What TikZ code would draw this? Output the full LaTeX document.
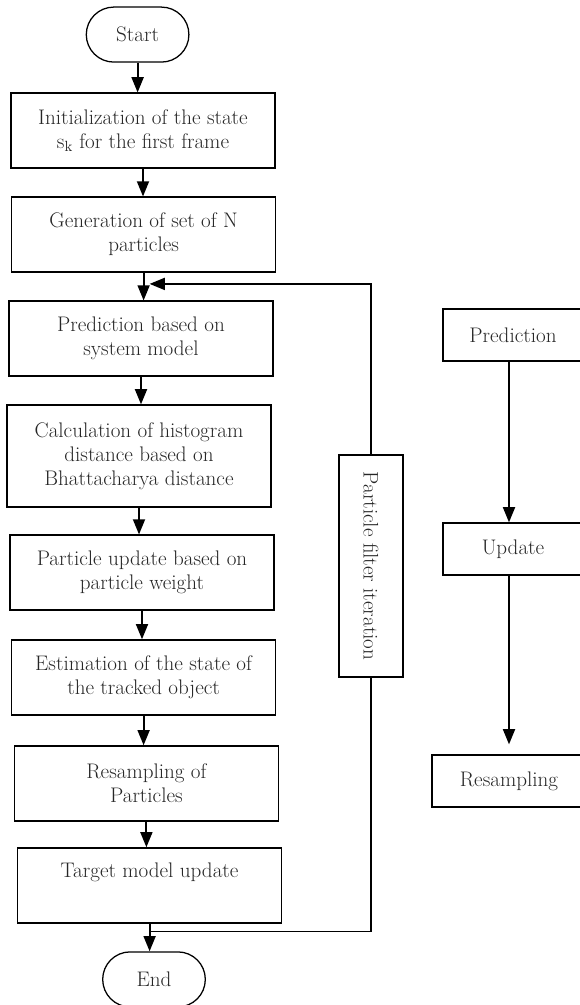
\documentclass[tikz,border=0pt]{standalone}
\usepackage{tikz}
\usetikzlibrary{arrows.meta,positioning,shapes,calc}

\begin{document}
\begin{tikzpicture}[
  txt/.style={font=\fontsize{15}{17}\selectfont, text=black!85},
  pbox/.style={draw, line width=0.9pt, minimum width=6.6cm, minimum height=1.875cm, align=center, txt},
  tbox/.style={draw, rounded rectangle, line width=0.9pt, minimum width=2.8cm, minimum height=1.375cm, txt},
  sbox/.style={draw, line width=0.9pt, minimum height=1.3cm, txt},
  arr/.style={-{Triangle[length=0.38cm, width=0.3cm]}, line width=1.3pt},
  lin/.style={line width=1.3pt}
]
\useasboundingbox (0,0) rectangle (14.5,25.125);

% Main flow
\node[tbox] (start) at (3.44, 24.26) {Start};
\node[pbox] (init) at (3.575, 21.86) {Initialization of the state\\s\textsubscript{k} for the first frame};
\node[pbox] (gen)  at (3.59, 19.26) {Generation of set of N\\particles};
\node[pbox] (pred) at (3.525, 16.66) {Prediction based on\\system model};
\node[pbox, minimum height=2.55cm] (hist) at (3.475, 13.725) {Calculation of histogram\\distance based on\\Bhattacharya distance};
\node[pbox] (upd)  at (3.55, 10.81) {Particle update based on\\particle weight};
\node[pbox] (est)  at (3.59, 8.19) {Estimation of the state of\\the tracked object};
\node[pbox] (res)  at (3.66, 5.54) {Resampling of\\Particles};
\node[pbox] (tgt)  at (3.74, 2.99) {Target model update\\\strut};
\node[tbox] (end)  at (3.85, 0.64) {End};

\draw[arr] (start.south) -- (start.south |- init.north);
\draw[arr] (init.south) -- (init.south |- gen.north);
\draw[arr] (gen.south) -- (gen.south |- pred.north);
\draw[arr] (pred.south) -- (pred.south |- hist.north);
\draw[arr] (hist.south) -- (hist.south |- upd.north);
\draw[arr] (upd.south) -- (upd.south |- est.north);
\draw[arr] (est.south) -- (est.south |- res.north);
\draw[arr] (res.south) -- (res.south |- tgt.north);
\draw[arr] (tgt.south) -- (tgt.south |- end.north);

% Loop
\node[draw, line width=0.9pt, minimum width=1.6cm, minimum height=5.55cm, txt] (iter) at (9.275, 10.975) {};
\node[txt, rotate=-90] (itertxt) at (iter.center) {Particle filter iteration};
\coordinate (loopin) at ($(gen.south)+(0.15,-0.28)$);
\coordinate (loopout) at ($(tgt.south)+(0,-0.2)$);
\draw[arr] (iter.north) |- (loopin);
\draw[lin] (iter.south) |- (loopout);

% Right side
\node[sbox, minimum width=3.5cm] (p2) at (12.825, 16.75) {Prediction};
\node[sbox, minimum width=3.5cm] (u2) at (12.825, 11.4) {Update};
\node[sbox, minimum width=3.85cm] (r2) at (12.725, 5.6) {Resampling};
\draw[arr] (12.725, 16.1) -- (12.725, 11.4 |- u2.north);
\draw[arr] (12.725, 10.75) -- ($(12.725, 5.6 |- r2.north)+(0,0.25)$);

\end{tikzpicture}
\end{document}
